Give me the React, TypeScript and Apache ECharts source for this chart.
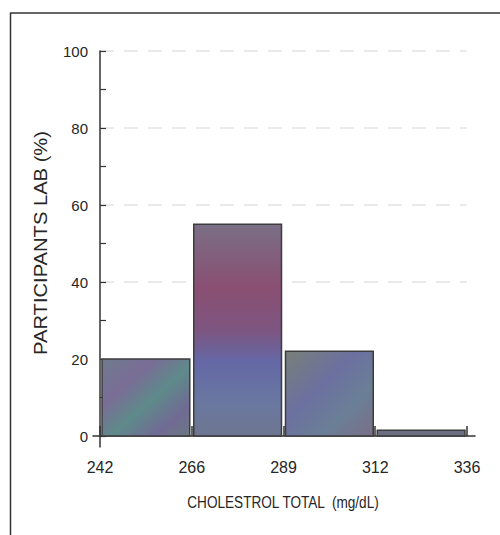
import React, { useEffect, useRef } from "react";
import * as echarts from "echarts";

// ---- data ----
const binEdgeLabels = ["242", "266", "289", "312", "336"];
const binPercents = [20, 55, 22, 1.5];
const yTickValues = [0, 10, 20, 30, 40, 50, 60, 70, 80, 90, 100];
const yLabelValues = [0, 20, 40, 60, 80, 100];
const gridLineValues = [40, 60, 80, 100];
const xTitle = "CHOLESTROL TOTAL  (mg/dL)";
const yTitle = "PARTICIPANTS LAB (%)";

const SANS = "'Liberation Sans', Arial, sans-serif";

const barFills = [
  new echarts.graphic.LinearGradient(0, 0, 1, 1, [
    { offset: 0, color: "#6f7a8e" },
    { offset: 0.3, color: "#7a6d96" },
    { offset: 0.55, color: "#5e8a8a" },
    { offset: 0.8, color: "#716a94" },
    { offset: 1, color: "#6a7880" },
  ]),
  new echarts.graphic.LinearGradient(0, 0, 0, 1, [
    { offset: 0, color: "#7a6f86" },
    { offset: 0.3, color: "#8a4f72" },
    { offset: 0.5, color: "#7d5580" },
    { offset: 0.65, color: "#6468a6" },
    { offset: 0.85, color: "#6a78a0" },
    { offset: 1, color: "#6e7690" },
  ]),
  new echarts.graphic.LinearGradient(0, 0, 1, 1, [
    { offset: 0, color: "#778078" },
    { offset: 0.4, color: "#6c70a0" },
    { offset: 0.7, color: "#6a7f96" },
    { offset: 1, color: "#7a6f88" },
  ]),
  "#6b6e80",
];

export default function App() {
  const ref = useRef<HTMLDivElement>(null);

  useEffect(() => {
    if (!ref.current) return;
    const chart = echarts.init(ref.current, null, { renderer: "svg" });
    const data = binPercents.map((v, i) => [i, i + 1, v]);

    chart.setOption({
      animation: false,
      backgroundColor: "#ffffff",
      grid: { left: 93, right: 25, top: 51, bottom: 88 },
      xAxis: {
        type: "value",
        min: -0.0763,
        max: 4.0872,
        axisLine: { show: true, lineStyle: { color: "#333", width: 1.5 } },
        axisTick: {
          show: true,
          inside: true,
          length: 10,
          customValues: [0, 1, 2, 3, 4],
          lineStyle: { color: "#333", width: 1.5 },
        },
        axisLabel: {
          customValues: [0, 1, 2, 3, 4],
          formatter: (v: number) => binEdgeLabels[Math.round(v)] ?? "",
          fontFamily: SANS,
          fontSize: 16,
          color: "#262626",
          margin: 12,
        },
        splitLine: { show: false },
      },
      yAxis: {
        type: "value",
        min: -2.857,
        max: 100,
        axisLine: { show: true, lineStyle: { color: "#333", width: 1.5 } },
        axisTick: {
          show: true,
          inside: true,
          length: 6,
          customValues: yTickValues,
          lineStyle: { color: "#333", width: 1.2 },
        },
        axisLabel: {
          customValues: yLabelValues,
          fontFamily: SANS,
          fontSize: 15,
          color: "#262626",
          margin: 5,
        },
        splitLine: { show: false },
      },
      series: [
        {
          type: "line",
          data: [],
          z: 1,
          silent: true,
          markLine: {
            silent: true,
            z: 0,
            symbol: "none",
            label: { show: false },
            lineStyle: { color: "#e4e4e4", type: [14, 10], width: 1.5 },
            data: gridLineValues.map((v) => [
              { coord: [0, v] },
              { coord: [4, v] },
            ]),
          },
        },
        {
          type: "custom",
          data,
          z: 3,
          renderItem: (params: any, api: any) => {
            const start = api.coord([api.value(0), 0]);
            const end = api.coord([api.value(1), api.value(2)]);
            return {
              type: "rect",
              shape: {
                x: start[0] + 2,
                y: end[1],
                width: end[0] - start[0] - 4,
                height: start[1] - end[1],
              },
              style: {
                fill: barFills[params.dataIndex],
                stroke: "#3d3d3d",
                lineWidth: 1.5,
              },
            };
          },
        },
      ],
      graphic: [
        {
          type: "line",
          shape: { x1: 10, y1: 13, x2: 500, y2: 13 },
          style: { stroke: "#333", lineWidth: 1.5 },
        },
        {
          type: "line",
          shape: { x1: 10.5, y1: 13, x2: 10.5, y2: 535 },
          style: { stroke: "#333", lineWidth: 1.5 },
        },
        {
          type: "text",
          x: 41,
          y: 243,
          rotation: Math.PI / 2,
          scaleX: 1.12,
          style: {
            text: yTitle,
            font: `18px ${SANS}`,
            fill: "#262626",
            textAlign: "center",
            textVerticalAlign: "middle",
          },
        },
        {
          type: "text",
          x: 283,
          y: 502,
          scaleX: 0.8,
          style: {
            text: xTitle,
            font: `17px ${SANS}`,
            fill: "#262626",
            textAlign: "center",
            textVerticalAlign: "middle",
          },
        },
      ],
    });

    return () => chart.dispose();
  }, []);

  return (
    <div
      ref={ref}
      style={{ position: "fixed", left: 0, top: 0, width: 500, height: 535 }}
    />
  );
}
